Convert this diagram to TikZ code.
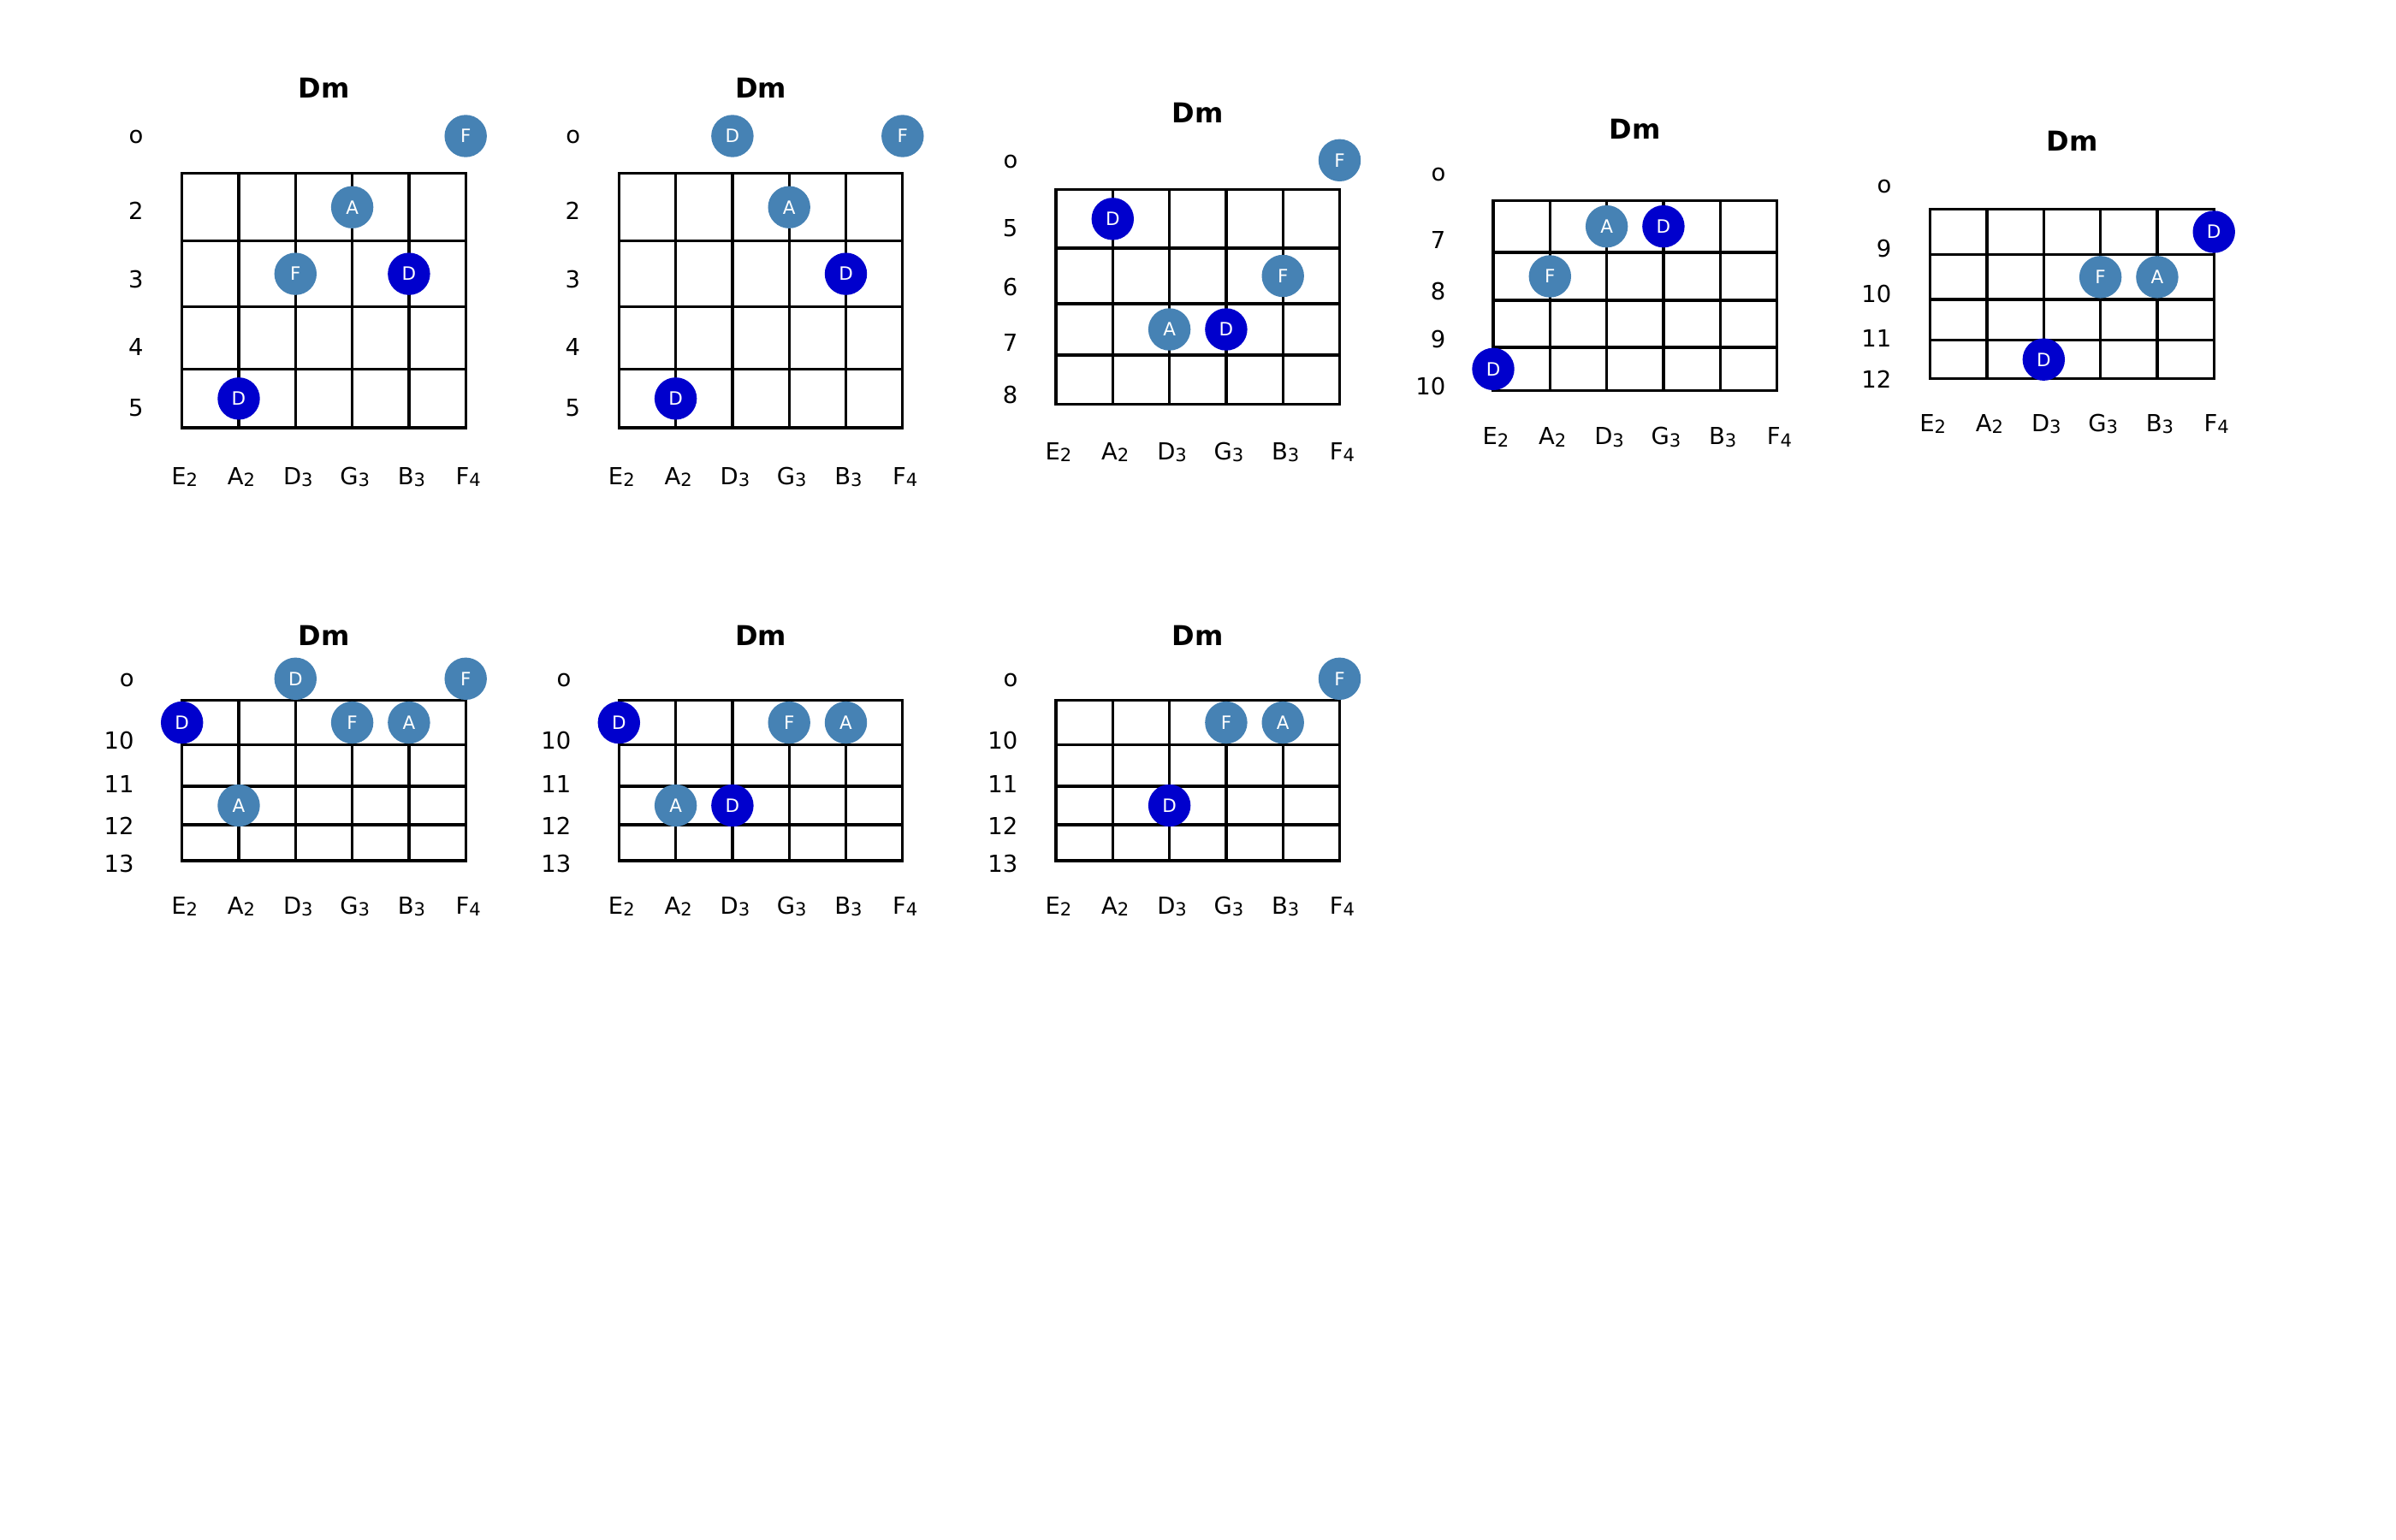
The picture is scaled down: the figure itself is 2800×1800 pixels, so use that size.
\documentclass[tikz,border=0pt]{standalone}
\usepackage{fontspec}
\setmainfont{DejaVu Sans}
\definecolor{steel}{RGB}{70,130,180}
\definecolor{rootblue}{RGB}{0,0,205}
\tikzset{
  gridline/.style={line width=0.95pt, line cap=rect, black},
  titlelab/.style={anchor=base, inner sep=0pt, font=\bfseries\fontsize{9.1}{11}\selectfont},
  strlab/.style={anchor=base, inner sep=0pt, xshift=0.03cm, font=\fontsize{7.8}{9}\selectfont},
  fretlab/.style={anchor=base east, inner sep=0pt, font=\fontsize{7.8}{9}\selectfont},
  notedot/.style={circle, inner sep=0pt, minimum size=0.494cm, text=white, font=\fontsize{6.1}{7}\selectfont},
  chordtone/.style={notedot, fill=steel},
  roottone/.style={notedot, fill=rootblue},
}
\newcommand\lowsub[1]{\raisebox{-0.8pt}{\fontsize{6}{7}\selectfont #1}}
\def\getys#1,#2,#3,#4,#5\relax{\def\ya{#1}\def\yb{#2}\def\yc{#3}\def\yd{#4}\def\ye{#5}}
\newcommand\chordbox[7]{%
  \getys#3\relax
  \pgfmathsetmacro\cbr{#2+331.5}%
  \pgfmathsetmacro\rowa{(\ya+\yb)/2}%
  \pgfmathsetmacro\rowb{(\yb+\yc)/2}%
  \pgfmathsetmacro\rowc{(\yc+\yd)/2}%
  \pgfmathsetmacro\rowd{(\yd+\ye)/2}%
  \draw[gridline] (#2,\ya) rectangle (\cbr,\ye);
  \foreach \yy in {\yb,\yc,\yd} \draw[gridline] (#2,\yy) -- (\cbr,\yy);
  \foreach \i in {1,...,4} \draw[gridline] ({#2+\i*66.3},\ya) -- ({#2+\i*66.3},\ye);
  \node[titlelab] (#1t) at ({#2+165.75},#4) {Dm};
  \foreach \s/\n [count=\i from 0] in {E/2,A/2,D/3,G/3,B/3,F/4}
    \node[strlab] (#1s\i) at ({#2+\i*66.3},#5) {\s\lowsub{\n}};
  \foreach \yy/\t [count=\i] in {#6} \node[fretlab] (#1f\i) at (#7,\yy) {\t};
}
\newcommand\sx[2]{{#1+#2*66.3}}
\begin{document}
\begin{tikzpicture}[x=0.01cm, y=-0.01cm]
\useasboundingbox (0,0) rectangle (2800,1800);
\fill[white] (0,0) rectangle (2800,1800);

% Diagram 1
\chordbox{d1}{212.7}{202.7,281.7,358.5,431.7,500}{115}{566}{168/o,256.7/2,336.7/3,415/4,486.7/5}{168.2}
\node[chordtone] (d1n1) at (\sx{212.7}{5},159) {F};
\node[chordtone] (d1n2) at (\sx{212.7}{3},\rowa) {A};
\node[chordtone] (d1n3) at (\sx{212.7}{2},\rowb) {F};
\node[roottone]  (d1n4) at (\sx{212.7}{4},\rowb) {D};
\node[roottone]  (d1n5) at (\sx{212.7}{1},\rowd) {D};

% Diagram 2
\chordbox{d2}{723.3}{202.7,281.7,358.5,431.7,500}{115}{566}{168/o,256.7/2,336.7/3,415/4,486.7/5}{678.8}
\node[chordtone] (d2n1) at (\sx{723.3}{2},159) {D};
\node[chordtone] (d2n2) at (\sx{723.3}{5},159) {F};
\node[chordtone] (d2n3) at (\sx{723.3}{3},\rowa) {A};
\node[roottone]  (d2n4) at (\sx{723.3}{4},\rowb) {D};
\node[roottone]  (d2n5) at (\sx{723.3}{1},\rowd) {D};

% Diagram 3
\chordbox{d3}{1234}{221.7,290,355,415,472.7}{144}{537}{197/o,276.7/5,345/6,410/7,471.7/8}{1190}
\node[chordtone] (d3n1) at (\sx{1234}{5},187.3) {F};
\node[roottone]  (d3n2) at (\sx{1234}{1},\rowa) {D};
\node[chordtone] (d3n3) at (\sx{1234}{4},\rowb) {F};
\node[chordtone] (d3n4) at (\sx{1234}{2},\rowc) {A};
\node[roottone]  (d3n5) at (\sx{1234}{3},\rowc) {D};

% Diagram 4
\chordbox{d4}{1745}{234.3,295,351,406,456.7}{162.3}{519.3}{212/o,290/7,350/8,406.7/9,461.7/10}{1690}
\node[chordtone] (d4n1) at (\sx{1745}{2},\rowa) {A};
\node[roottone]  (d4n2) at (\sx{1745}{3},\rowa) {D};
\node[chordtone] (d4n3) at (\sx{1745}{1},\rowb) {F};
\node[roottone]  (d4n4) at (\sx{1745}{0},\rowd) {D};

% Diagram 5
\chordbox{d5}{2255.7}{244.3,297.7,350,397.7,442.7}{176.7}{504}{225.5/o,300/9,353.3/10,405/11,453.3/12}{2211}
\node[roottone]  (d5n1) at (\sx{2255.7}{5},\rowa) {D};
\node[chordtone] (d5n2) at (\sx{2255.7}{3},\rowb) {F};
\node[chordtone] (d5n3) at (\sx{2255.7}{4},\rowb) {A};
\node[roottone]  (d5n4) at (\sx{2255.7}{2},\rowd) {D};

% Diagram 6
\chordbox{d6}{212.7}{818.3,870.8,919,964,1006}{754}{1068}{802/o,875/10,926.7/11,975/12,1019.3/13}{157.3}
\node[chordtone] (d6n1) at (\sx{212.7}{2},793.3) {D};
\node[chordtone] (d6n2) at (\sx{212.7}{5},793.3) {F};
\node[roottone]  (d6n3) at (\sx{212.7}{0},\rowa) {D};
\node[chordtone] (d6n4) at (\sx{212.7}{3},\rowa) {F};
\node[chordtone] (d6n5) at (\sx{212.7}{4},\rowa) {A};
\node[chordtone] (d6n6) at (\sx{212.7}{1},\rowc) {A};

% Diagram 7
\chordbox{d7}{723.3}{818.3,870.8,919,964,1006}{754}{1068}{802/o,875/10,926.7/11,975/12,1019.3/13}{668}
\node[roottone]  (d7n1) at (\sx{723.3}{0},\rowa) {D};
\node[chordtone] (d7n2) at (\sx{723.3}{3},\rowa) {F};
\node[chordtone] (d7n3) at (\sx{723.3}{4},\rowa) {A};
\node[chordtone] (d7n4) at (\sx{723.3}{1},\rowc) {A};
\node[roottone]  (d7n5) at (\sx{723.3}{2},\rowc) {D};

% Diagram 8
\chordbox{d8}{1234}{818.3,870.8,919,964,1006}{754}{1068}{802/o,875/10,926.7/11,975/12,1019.3/13}{1190}
\node[chordtone] (d8n1) at (\sx{1234}{5},793.3) {F};
\node[chordtone] (d8n2) at (\sx{1234}{3},\rowa) {F};
\node[chordtone] (d8n3) at (\sx{1234}{4},\rowa) {A};
\node[roottone]  (d8n4) at (\sx{1234}{2},\rowc) {D};
\end{tikzpicture}
\end{document}
